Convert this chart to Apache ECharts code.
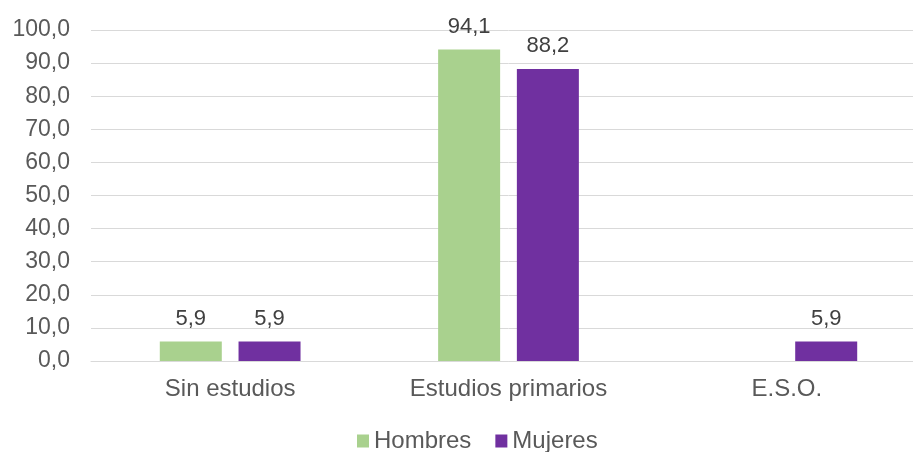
<!DOCTYPE html>
<html><head><meta charset="utf-8">
<script src="https://cdn.jsdelivr.net/npm/echarts@6/dist/echarts.min.js"></script>
<style>html,body{margin:0;padding:0;background:#fff;overflow:hidden;width:913px;height:452px}#c{width:926px;height:452px}</style>
</head><body><div id="c"></div>
<script>
var categories = ['Sin estudios', 'Estudios primarios', 'E.S.O.'];
var hombres = [5.9, 94.1, null];
var mujeres = [5.9, 88.2, 5.9];
var yTicks = {min: 0, max: 100, interval: 10};

function fmt(v){ return v.toFixed(1).replace('.', ','); }
var font = 'Liberation Sans, Arial, sans-serif';
var chart = echarts.init(document.getElementById('c'), null, {renderer:'canvas'});
chart.setOption({
  animation: false,
  textStyle: {fontFamily: font},
  grid: {left: 91, top: 30, right: 0, height: 331, containLabel: false},
  legend: {
    top: 424, left: 352, itemWidth: 12, itemHeight: 13, itemGap: 24, icon: 'rect',
    textStyle: {fontFamily: font, fontSize: 24, color: '#595959'},
    data: ['Hombres', 'Mujeres']
  },
  xAxis: {
    type: 'category', data: categories,
    axisLine: {show: true, lineStyle: {color: '#d9d9d9', width: 1}},
    axisTick: {show: false},
    axisLabel: {fontFamily: font, fontSize: 24, color: '#595959', margin: 16}
  },
  yAxis: {
    type: 'value', min: yTicks.min, max: yTicks.max, interval: yTicks.interval,
    axisLine: {show: false}, axisTick: {show: false},
    splitLine: {lineStyle: {color: '#d9d9d9', width: 1}},
    axisLabel: {fontFamily: font, fontSize: 23, color: '#595959', margin: 21, formatter: function(v){return fmt(v);}}
  },
  series: [
    {name: 'Hombres', type: 'bar', data: hombres, barWidth: 62, barGap: '27%',
     itemStyle: {color: '#a9d18e'},
     label: {show: true, position: 'top', distance: 12, fontFamily: font, fontSize: 22, color: '#404040',
             formatter: function(p){return p.value == null ? '' : fmt(p.value);}}},
    {name: 'Mujeres', type: 'bar', data: mujeres, barWidth: 62,
     itemStyle: {color: '#7030a0'},
     label: {show: true, position: 'top', distance: 12, fontFamily: font, fontSize: 22, color: '#404040',
             formatter: function(p){return p.value == null ? '' : fmt(p.value);}}}
  ]
});
</script></body></html>
